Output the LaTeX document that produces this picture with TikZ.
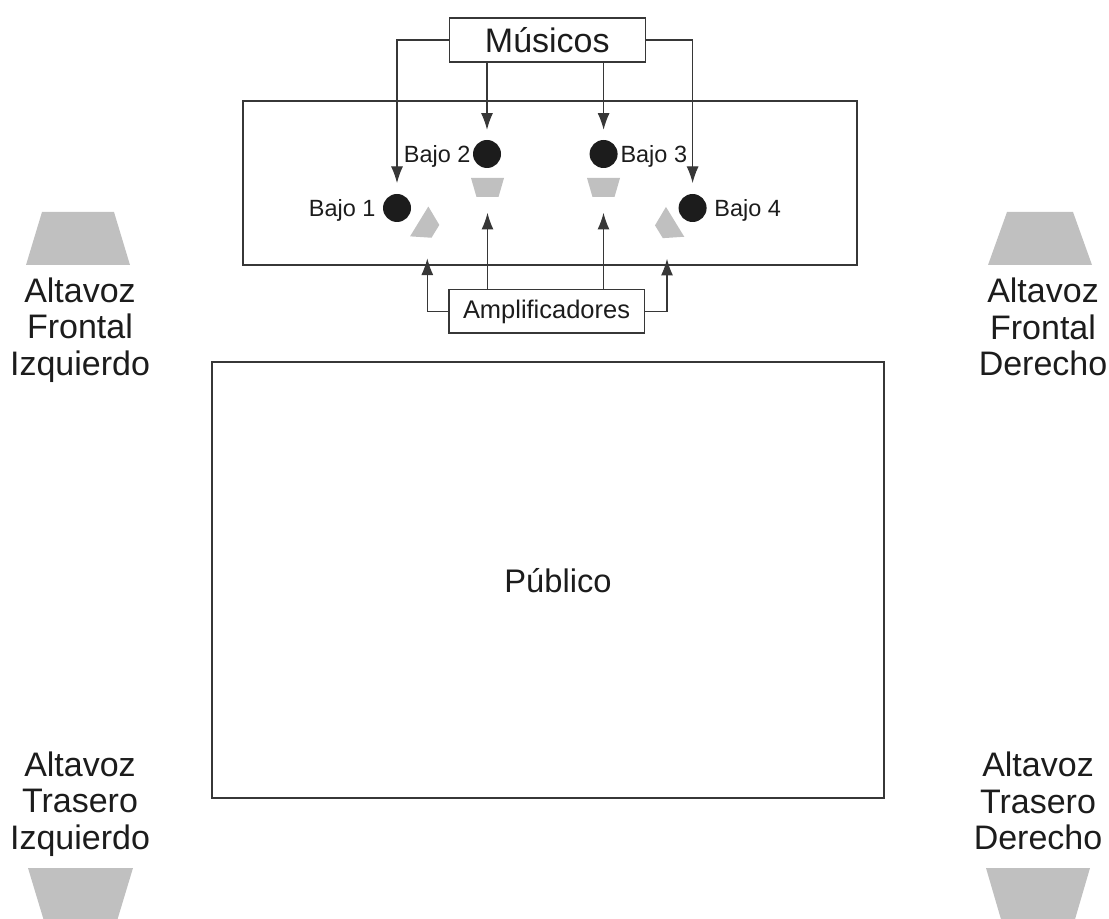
\documentclass[tikz,border=0pt]{standalone}
\usepackage{fontspec}
\setmainfont{Liberation Sans}
\usetikzlibrary{arrows.meta,positioning}
\definecolor{altgris}{RGB}{192,192,192}
\definecolor{linea}{RGB}{55,55,55}
\definecolor{negro}{RGB}{28,28,28}

\tikzset{pics/altavoz/.style n args={3}{code={
				\fill[altgris] (-#1/2,-#3/2) -- (#1/2,-#3/2) -- (#2/2,#3/2) -- (-#2/2,#3/2) -- cycle;
				\coordinate (-c) at (0,0);
			}}}

\begin{document}
\begin{tikzpicture}[x=0.75pt,y=-0.75pt,>={Latex[length=12.5pt,width=9pt]},
		caja/.style={draw=linea,line width=0.8pt,inner sep=0pt,text=negro},
		bajo/.style={circle,fill=negro,minimum size=21pt,inner sep=0pt},
		etiqueta/.style={inner sep=0pt,text=negro,font=\fontsize{17.6}{20}\selectfont,yshift=-2pt},
		rotulo/.style={inner sep=0pt,text=negro,align=center,font=\fontsize{25.5}{27.4}\selectfont},
		flecha/.style={->,draw=linea,line width=0.8pt}]

		\useasboundingbox (0,0) rectangle (1109,919);
		\clip (0,0) rectangle (1109,919);

		% Escenario y público
		\node[caja,minimum width=460.5pt,minimum height=123pt] (escenario) at (550,183) {};
		\node[caja,minimum width=504pt,minimum height=327pt,font=\fontsize{24.5}{28}\selectfont,text depth=0pt] (publico) at (548,580) {\hspace*{15pt}Público};

		% Músicos y amplificadores
		\node[caja,minimum width=146.6pt,minimum height=33pt,font=\fontsize{25.5}{28}\selectfont] (musicos) at (547.3,40) {Músicos};
		\node[caja,minimum width=146.3pt,minimum height=32.3pt,font=\fontsize{19.1}{22}\selectfont] (amps) at (546.5,311.5) {Amplificadores};

		% Bajos
		\foreach \n/\x/\y in {1/397/208, 2/487/154, 3/603.6/154, 4/692.6/208} {
				\node[bajo] (b\n) at (\x,\y) {};
			}
		\node[etiqueta,left=5.25pt of b1] (lb1) {Bajo 1};
		\node[etiqueta,left=1.5pt of b2] (lb2) {Bajo 2};
		\node[etiqueta,right=1.8pt of b3] (lb3) {Bajo 3};
		\node[etiqueta,right=5.5pt of b4] (lb4) {Bajo 4};

		% Altavoces de los bajos
		\pic (s1) [rotate=58.5] at (427.3,226.4) {altavoz={35}{15}{19}};
		\pic (s2) at (487.5,187.5) {altavoz={33}{22}{19}};
		\pic (s3) at (603.5,187.5) {altavoz={33}{22}{19}};
		\pic (s4) [rotate=-58.5] at (667,226.8) {altavoz={35}{15}{19}};

		% Altavoces de sala
		\pic (afi) at (78,238.5) {altavoz={72}{104}{53}};
		\pic (afd) at (1040,238.5) {altavoz={66}{104}{53}};
		\pic (ati) at (80.5,894.5) {altavoz={105}{73}{53}};
		\pic (atd) at (1038,894.5) {altavoz={104}{73}{53}};
		\node[rotulo] (tfi) at (80,330) {Altavoz\\Frontal\\Izquierdo};
		\node[rotulo] (tfd) at (1043,327) {Altavoz\\Frontal\\Derecho};
		\node[rotulo] (tti) at (80,804) {Altavoz\\Trasero\\Izquierdo};
		\node[rotulo] (ttd) at (1038,801) {Altavoz\\Trasero\\Derecho};

		% Flechas de los músicos
		\draw[flecha,shorten >=8pt] (musicos.west) -| (b1.north);
		\draw[flecha,shorten >=8pt] (musicos.east) -| (b4.north);
		\draw[flecha,shorten >=7.5pt] (musicos.south -| b2) -- (b2.north);
		\draw[flecha,shorten >=7.5pt] (musicos.south -| b3) -- (b3.north);

		% Flechas de los amplificadores
		\draw[flecha,shorten >=24pt] (amps.west) -| (s1-c);
		\draw[flecha,shorten >=24pt] (amps.east) -| (s4-c);
		\draw[flecha,shorten >=19pt] (amps.north -| s2-c) -- (s2-c);
		\draw[flecha,shorten >=19pt] (amps.north -| s3-c) -- (s3-c);
	\end{tikzpicture}
\end{document}
